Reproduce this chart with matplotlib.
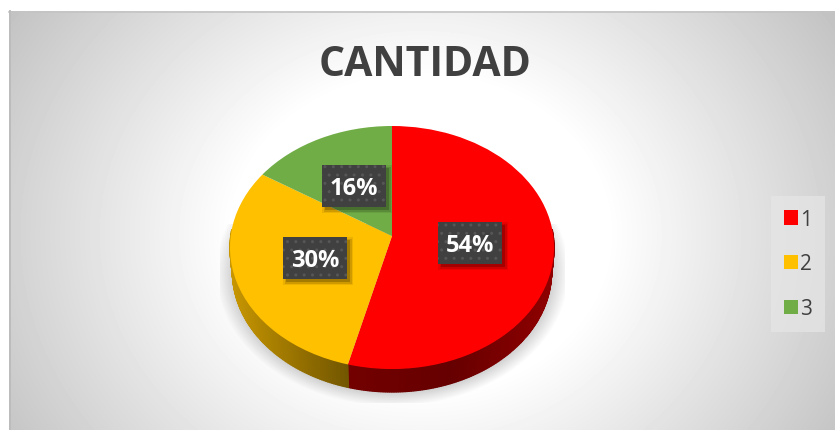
import matplotlib
matplotlib.use('Agg')
import matplotlib.pyplot as plt
from matplotlib.patches import Rectangle
from matplotlib.transforms import Transform
import numpy as np

# values
categories = ['1', '2', '3']
values = [54, 30, 16]
colors = ['#FF0000', '#FFC000', '#70AD47']
title = 'CANTIDAD'

# label box centres in pixels
label_pos = [(470, 244), (315, 259), (354, 187)]

W, H = 835, 431
plt.rcParams['font.family'] = ['Open Sans', 'DejaVu Sans']


# the Excel 3D pie is a circle seen in perspective
def persp(u, v):
    c = 0.0947
    d = c * v + 1
    return 392 + 161.3 * u / d, (237 - 97.98 * v) / d


def persp_low(u, v):
    x, y = persp(u, v)
    return 392 + (x - 392) * 0.985, y * 0.99 + 26.7


class PerspTransform(Transform):
    input_dims = output_dims = 2

    def transform_non_affine(self, values):
        x, y = persp(values[:, 0], values[:, 1])
        return np.column_stack([x, y])


fig = plt.figure(figsize=(W / 100, H / 100), dpi=100, facecolor='white')
ax = fig.add_axes([0, 0, 1, 1])

wedges, _ = ax.pie(values, colors=colors, startangle=90, counterclock=False,
                   wedgeprops={'linewidth': 0, 'zorder': 5})
ax.set_aspect('auto')
ax.axis('off')
for w in wedges:
    w.set_transform(PerspTransform() + ax.transData)

# background gradient
yy, xx = np.mgrid[12:431, 9:835]
r = np.sqrt(((xx - 420) / 415.0) ** 2 + ((yy - 235) / 350.0) ** 2)
bg = np.clip(1.0 - 0.327 * np.clip(r - 0.45, 0, None), 0, 1)
ax.imshow(bg, extent=[9, 835, 431, 12], cmap='gray', vmin=0, vmax=1,
          aspect='auto', zorder=0, interpolation='bilinear')
ax.plot([9, 835], [12.5, 12.5], color='#c4c4c4', lw=1.2, zorder=1)
ax.plot([10, 10], [12, 431], color='#bcbcbc', lw=1.4, zorder=1)

# soft shadow under the pie
yy, xx = np.mgrid[225:404, 220:565]
d = np.sqrt(((xx - 392) / 172.0) ** 2 + ((yy - 272) / 131.0) ** 2)
alpha = 0.38 * np.clip((1.0 - d) / 0.14 + 0.2, 0, 1)
shadow = np.zeros(xx.shape + (4,))
shadow[..., :3] = 0.35
shadow[..., 3] = alpha
ax.imshow(shadow, extent=[220, 565, 404, 225], aspect='auto', zorder=2,
          interpolation='bilinear')
ax.set_xlim(0, W)
ax.set_ylim(H, 0)

# side wall, split in thin quads for the shading (front half only)
edges = np.cumsum([0] + values) / sum(values) * 2 * np.pi
for i, col in enumerate(colors):
    ts = np.linspace(edges[i], edges[i + 1], int(values[i] * 5) + 2)
    base = np.array(matplotlib.colors.to_rgb(col))
    for t0, t1 in zip(ts[:-1], ts[1:]):
        if np.cos(t0) > 0.05 and np.cos(t1) > 0.05:
            continue
        x0, y0 = persp(np.sin(t0), np.cos(t0))
        x1, y1 = persp(np.sin(t1), np.cos(t1))
        x2, y2 = persp_low(np.sin(t1), np.cos(t1))
        x3, y3 = persp_low(np.sin(t0), np.cos(t0))
        shade = np.interp((x0 + x1) / 2, [230, 347, 450, 552], [0.78, 0.45, 0.40, 0.56])
        ax.fill([x0, x1, x2, x3], [y0, y1, y2, y3], color=base * shade, lw=0.9, zorder=3)

# data labels: dotted dark box with a soft shadow
bw, bh = 64, 42
for v, (lx, ly) in zip(values, label_pos):
    for grow, a in [(6, 0.08), (3, 0.12), (0, 0.2)]:
        ax.add_patch(Rectangle((lx - bw / 2 + 3 - grow / 2, ly - bh / 2 + 3 - grow / 2),
                               bw + grow, bh + grow, fc='black', ec='none', alpha=a, zorder=6))
    ax.add_patch(Rectangle((lx - bw / 2, ly - bh / 2), bw, bh, fc='#404040', ec='#565656',
                           lw=0, hatch='..', zorder=6.5))
    ax.text(lx, ly + 2.5, f'{v}%', color='white', fontsize=17, fontweight='bold',
            ha='center', va='center', zorder=7)

ax.text(425, 66, title, fontsize=29.5, fontweight='bold', color='#404040',
        ha='center', va='center', zorder=7)

leg = ax.legend(wedges, categories, loc='upper left',
                bbox_to_anchor=(771 / W, 1 - 197 / H), bbox_transform=fig.transFigure,
                fontsize=15, labelcolor='#404040', frameon=True, fancybox=False,
                facecolor='#e6e6e6', edgecolor='none', framealpha=0.7,
                handlelength=0.7, handleheight=0.7, handletextpad=0.1,
                labelspacing=1.15, borderpad=0.6, borderaxespad=0)
leg.set_zorder(6)

fig.savefig('out.png', dpi=100, facecolor='white')
